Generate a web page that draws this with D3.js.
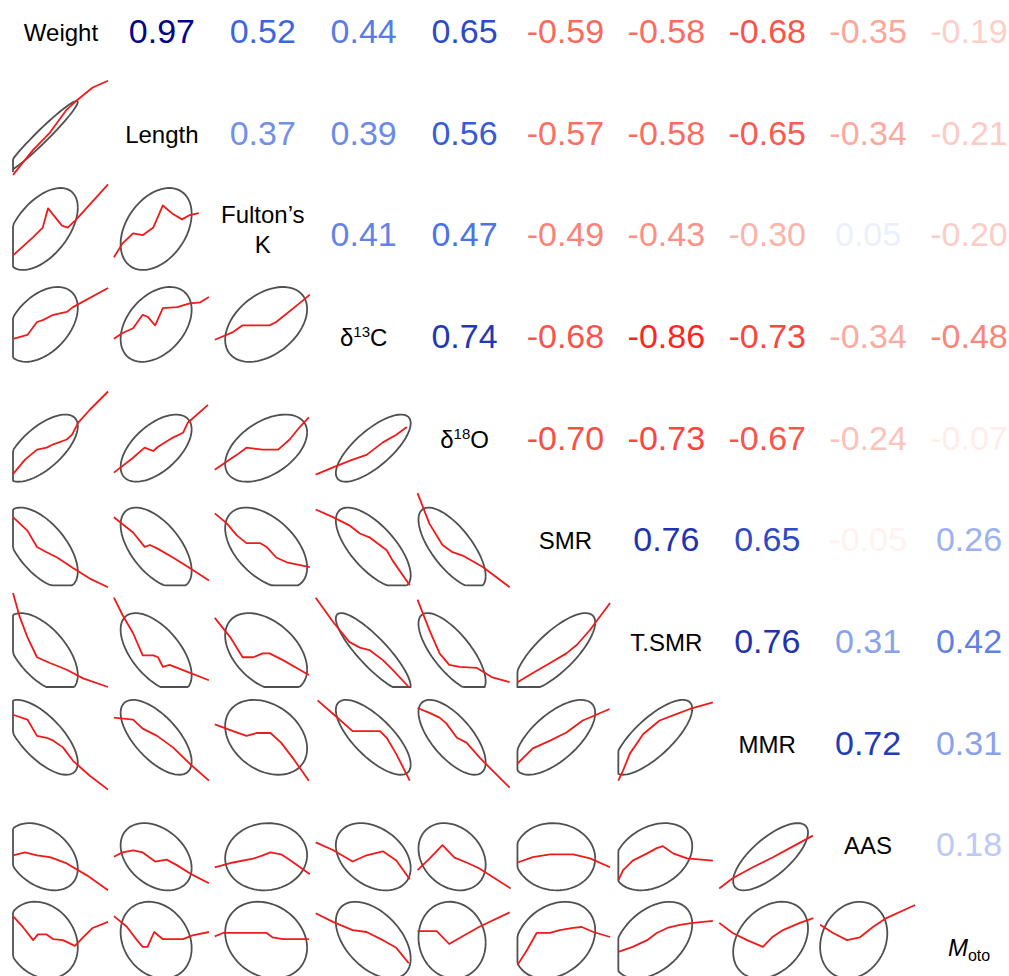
<!DOCTYPE html>
<html>
<head>
<meta charset="utf-8">
<script src="https://cdn.jsdelivr.net/npm/d3@7"></script>
<style>
  html, body { margin: 0; padding: 0; background: #ffffff; }
  svg { display: block; }
  text { font-family: "Liberation Sans", Arial, sans-serif; }
</style>
</head>
<body>
<svg id="chart" width="1009" height="976"></svg>
<script>
// ---------------- DATA ----------------
const variables = ["Weight", "Length", "Fulton’s K", "δ13C", "δ18O", "SMR", "T.SMR", "MMR", "AAS", "Moto"];

// upper triangle correlations: corrUpper[i] holds r(i, j) for j = i+1 .. 9
const corrUpper = [
  [0.97, 0.52, 0.44, 0.65, -0.59, -0.58, -0.68, -0.35, -0.19],
  [0.37, 0.39, 0.56, -0.57, -0.58, -0.65, -0.34, -0.21],
  [0.41, 0.47, -0.49, -0.43, -0.30, 0.05, -0.20],
  [0.74, -0.68, -0.86, -0.73, -0.34, -0.48],
  [-0.70, -0.73, -0.67, -0.24, -0.07],
  [0.76, 0.65, -0.05, 0.26],
  [0.76, 0.31, 0.42],
  [0.72, 0.31],
  [0.18]
];

// per-variable mean and ellipse half-extent, as fractions of each variable's data range
const varMean   = [0.30, 0.44, 0.535, 0.60, 0.37, 0.39, 0.36, 0.535, 0.35, 0.54];
const varSpread = [0.375, 0.37, 0.427, 0.39, 0.35, 0.42, 0.41, 0.39, 0.35, 0.40];

// lowess smooth lines for lower panels, smoothRows[i-1][j] (x = column var, y = row var; fractions of range)
const smoothRow1 = [
  [[0,0.04],[0.21,0.30],[0.385,0.48],[0.56,0.72],[0.67,0.82],[0.83,0.95],[0.99,1.02]]
];
const smoothRow2 = [
  [[0,0.26],[0.21,0.45],[0.31,0.55],[0.365,0.75],[0.51,0.57],[0.57,0.55],[0.65,0.625],[0.99,1.0]],
  [[0,0.24],[0.09,0.385],[0.20,0.49],[0.30,0.47],[0.41,0.55],[0.51,0.78],[0.615,0.69],[0.71,0.635],[0.79,0.68],[0.885,0.70]]
];
const smoothRow3 = [
  [[0,0.45],[0.15,0.49],[0.25,0.625],[0.31,0.645],[0.42,0.70],[0.56,0.73],[0.625,0.78],[0.99,0.98]],
  [[0,0.45],[0.09,0.51],[0.20,0.56],[0.30,0.70],[0.35,0.68],[0.43,0.59],[0.51,0.77],[0.66,0.78],[0.79,0.82],[0.90,0.83],[0.99,0.885]],
  [[0,0.44],[0.19,0.52],[0.29,0.59],[0.57,0.59],[0.64,0.625],[0.92,0.85],[0.99,0.91]]
];
const smoothRow4 = [
  [[0,0.10],[0.125,0.25],[0.25,0.355],[0.35,0.375],[0.42,0.41],[0.56,0.46],[0.615,0.51],[0.68,0.635],[0.80,0.77],[0.99,0.96]],
  [[0,0.115],[0.20,0.27],[0.32,0.375],[0.41,0.34],[0.46,0.385],[0.615,0.48],[0.72,0.53],[0.77,0.635],[0.98,0.82]],
  [[0,0.145],[0.125,0.23],[0.23,0.30],[0.33,0.375],[0.5,0.355],[0.66,0.355],[0.78,0.46],[0.885,0.59],[0.98,0.69]],
  [[0,0.094],[0.18,0.17],[0.385,0.25],[0.53,0.30],[0.70,0.43],[0.84,0.51],[0.95,0.59]]
];
const smoothRow5 = [
  [[0,0.71],[0.15,0.57],[0.25,0.40],[0.35,0.345],[0.46,0.29],[0.625,0.18],[0.80,0.07],[0.99,-0.02]],
  [[0,0.71],[0.20,0.55],[0.32,0.40],[0.375,0.42],[0.45,0.385],[0.615,0.29],[0.79,0.18],[0.99,0.05]],
  [[0,0.75],[0.125,0.645],[0.23,0.52],[0.33,0.44],[0.47,0.44],[0.54,0.40],[0.64,0.29],[0.75,0.24],[0.99,0.19]],
  [[0,0.79],[0.18,0.71],[0.35,0.625],[0.46,0.54],[0.56,0.50],[0.74,0.365],[0.80,0.26],[0.98,0.0]],
  [[0.01,0.96],[0.135,0.64],[0.27,0.42],[0.375,0.345],[0.48,0.31],[0.69,0.19],[0.97,-0.02]]
];
const smoothRow6 = [
  [[0,0.98],[0.07,0.73],[0.15,0.52],[0.25,0.31],[0.385,0.25],[0.56,0.18],[0.73,0.09],[0.99,0.0]],
  [[0,0.93],[0.09,0.75],[0.20,0.56],[0.30,0.33],[0.41,0.33],[0.46,0.31],[0.51,0.21],[0.58,0.23],[0.76,0.16],[0.99,0.07]],
  [[0,0.72],[0.16,0.52],[0.29,0.31],[0.40,0.31],[0.50,0.35],[0.57,0.35],[0.71,0.28],[0.885,0.18],[0.98,0.125]],
  [[0,0.93],[0.18,0.68],[0.35,0.47],[0.46,0.41],[0.56,0.385],[0.70,0.28],[0.80,0.18],[0.97,0.0]],
  [[0.01,0.91],[0.135,0.59],[0.24,0.35],[0.34,0.23],[0.45,0.21],[0.625,0.20],[0.79,0.10],[0.97,0.05]],
  [[0,0.05],[0.16,0.145],[0.34,0.25],[0.51,0.35],[0.62,0.44],[0.755,0.594],[0.965,0.875]]
];
const smoothRow7 = [
  [[0,0.77],[0.15,0.72],[0.25,0.55],[0.35,0.53],[0.42,0.50],[0.52,0.43],[0.625,0.29],[0.80,0.135],[0.99,-0.01]],
  [[0,0.74],[0.20,0.72],[0.30,0.625],[0.45,0.55],[0.615,0.43],[0.79,0.26],[0.99,0.083]],
  [[0,0.67],[0.19,0.60],[0.33,0.55],[0.44,0.58],[0.58,0.58],[0.69,0.48],[0.82,0.31],[0.98,0.083]],
  [[0.02,0.92],[0.18,0.78],[0.385,0.60],[0.67,0.60],[0.74,0.53],[0.84,0.36],[0.98,0.083]],
  [[0.01,0.84],[0.135,0.79],[0.24,0.74],[0.31,0.68],[0.42,0.53],[0.52,0.48],[0.66,0.32],[0.97,0.01]],
  [[0,0.26],[0.16,0.42],[0.34,0.50],[0.51,0.585],[0.68,0.71],[0.96,0.83]],
  [[0,0.083],[0.05,0.19],[0.12,0.365],[0.26,0.57],[0.43,0.71],[0.61,0.78],[0.745,0.83],[0.985,0.90]]
];
const smoothRow8 = [
  [[0,0.365],[0.125,0.395],[0.25,0.365],[0.385,0.345],[0.56,0.28],[0.77,0.156],[0.99,0.0]],
  [[0,0.35],[0.09,0.395],[0.20,0.417],[0.30,0.395],[0.43,0.30],[0.55,0.32],[0.66,0.26],[0.79,0.177],[0.99,0.073]],
  [[0,0.24],[0.19,0.29],[0.40,0.33],[0.50,0.365],[0.58,0.395],[0.69,0.375],[0.79,0.31],[0.99,0.167]],
  [[0,0.50],[0.18,0.42],[0.385,0.30],[0.53,0.365],[0.70,0.406],[0.84,0.31],[0.98,0.115]],
  [[0.01,0.21],[0.135,0.33],[0.27,0.47],[0.395,0.34],[0.52,0.29],[0.65,0.23],[0.98,0.02]],
  [[0,0.29],[0.16,0.345],[0.34,0.375],[0.58,0.375],[0.755,0.333],[0.965,0.24]],
  [[0,0.104],[0.05,0.21],[0.15,0.31],[0.30,0.385],[0.40,0.44],[0.465,0.46],[0.57,0.385],[0.715,0.333],[0.985,0.31]],
  [[0,0.02],[0.14,0.125],[0.35,0.24],[0.56,0.345],[0.735,0.44],[0.975,0.57]]
];
const smoothRow9 = [
  [[0,0.79],[0.10,0.68],[0.21,0.54],[0.26,0.60],[0.35,0.60],[0.42,0.55],[0.52,0.54],[0.645,0.48],[0.73,0.57],[0.83,0.667],[0.99,0.73]],
  [[0,0.79],[0.135,0.68],[0.24,0.54],[0.30,0.47],[0.35,0.47],[0.42,0.625],[0.51,0.55],[0.615,0.55],[0.72,0.55],[0.82,0.59],[0.99,0.625]],
  [[0,0.58],[0.085,0.615],[0.19,0.615],[0.54,0.615],[0.60,0.57],[0.71,0.55],[0.98,0.55]],
  [[0,0.82],[0.18,0.73],[0.385,0.645],[0.53,0.625],[0.70,0.54],[0.84,0.46],[0.97,0.30]],
  [[0.01,0.635],[0.21,0.635],[0.34,0.50],[0.48,0.58],[0.655,0.68],[0.97,0.83]],
  [[0,0.28],[0.10,0.4375],[0.20,0.615],[0.34,0.615],[0.44,0.645],[0.58,0.667],[0.67,0.677],[0.79,0.625],[0.965,0.573]],
  [[0,0.417],[0.15,0.47],[0.30,0.54],[0.40,0.615],[0.51,0.667],[0.64,0.70],[0.78,0.72],[0.985,0.74]],
  [[0,0.72],[0.14,0.615],[0.29,0.54],[0.455,0.47],[0.55,0.57],[0.665,0.645],[0.84,0.72],[0.98,0.77]],
  [[0,0.70],[0.135,0.615],[0.28,0.54],[0.415,0.57],[0.55,0.677],[0.69,0.77],[0.99,0.906]]
];
const smoothRows = [smoothRow1, smoothRow2, smoothRow3, smoothRow4, smoothRow5, smoothRow6, smoothRow7, smoothRow8, smoothRow9];

// ---------------- LAYOUT ----------------
const svg = d3.select("#chart");
const n = variables.length;
const idx = d3.range(n);
const colCentre = d3.scalePoint().domain(idx).range([61, 969]);
const rowCentre = d3.scalePoint().domain(idx).range([29, 944]);
const half = 48;

const corrAt = (a, b) => {
  const i = Math.min(a, b), j = Math.max(a, b);
  return corrUpper[i][j - i - 1];
};

const colorScale = d3.scaleLinear()
  .domain([-1, -0.5, 0, 0.5, 1])
  .range(["#ff0000", "#fa8072", "#ffffff", "#4169e1", "#000080"])
  .interpolate(d3.interpolateRgb);

const panelX = j => d3.scaleLinear().domain([0, 1]).range([colCentre(j) - half, colCentre(j) + half]);
const panelY = i => d3.scaleLinear().domain([0, 1]).range([rowCentre(i) + half, rowCentre(i) - half]);

const line = d3.line();
const gLower = svg.append("g").attr("class", "lower");

// ---------------- LOWER PANELS: ellipse + smooth ----------------
for (let i = 1; i < n; i++) {
  for (let j = 0; j < i; j++) {
    const xs = panelX(j), ys = panelY(i);
    const r = corrAt(i, j);
    const s = Math.sqrt(1 - r * r);
    const angles = d3.range(75).map(k => (2 * Math.PI * k) / 74);
    const pts = angles.map(t => {
      let ex = varMean[j] + varSpread[j] * Math.cos(t);
      let ey = varMean[i] + varSpread[i] * (r * Math.cos(t) + s * Math.sin(t));
      ex = Math.max(0, Math.min(1, ex));
      ey = Math.max(0, Math.min(1, ey));
      return [xs(ex), ys(ey)];
    });
    gLower.append("path")
      .attr("d", line(pts))
      .attr("fill", "none")
      .attr("stroke", "#505050")
      .attr("stroke-width", 1.8);

    const sm = smoothRows[i - 1][j];
    gLower.append("path")
      .attr("d", line(sm.map(p => [xs(p[0]), ys(p[1])])))
      .attr("fill", "none")
      .attr("stroke", "#f01a1a")
      .attr("stroke-width", 1.8)
      .attr("stroke-linejoin", "round");
  }
}

// ---------------- UPPER PANELS: correlation numbers ----------------
const gUpper = svg.append("g").attr("class", "upper");
for (let i = 0; i < n; i++) {
  for (let j = i + 1; j < n; j++) {
    const r = corrAt(i, j);
    gUpper.append("text")
      .attr("x", colCentre(j))
      .attr("y", rowCentre(i) + 14)
      .attr("text-anchor", "middle")
      .attr("font-size", 34)
      .attr("fill", colorScale(r))
      .text(r.toFixed(2));
  }
}

// ---------------- DIAGONAL LABELS ----------------
const gDiag = svg.append("g").attr("class", "diag");
variables.forEach((v, k) => {
  const cx = colCentre(k), cy = rowCentre(k);
  const t = gDiag.append("text")
    .attr("x", cx)
    .attr("text-anchor", "middle")
    .attr("font-size", 24)
    .attr("fill", "#000");
  if (v === "Fulton’s K") {
    t.attr("y", cy - 9);
    t.append("tspan").attr("x", cx).text("Fulton’s");
    t.append("tspan").attr("x", cx).attr("dy", 30).text("K");
  } else if (v === "δ13C" || v === "δ18O") {
    t.attr("y", cy + 12);
    t.append("tspan").text("δ");
    t.append("tspan").attr("font-size", 15).attr("dy", -9).text(v.slice(1, 3));
    t.append("tspan").attr("dy", 9).text(v.slice(3));
  } else if (v === "Moto") {
    t.attr("y", cy + 12);
    t.append("tspan").attr("font-style", "italic").text("M");
    t.append("tspan").attr("font-size", 16).attr("dy", 5).text("oto");
  } else {
    t.attr("y", cy + 12).text(v);
  }
});
</script>
</body>
</html>
